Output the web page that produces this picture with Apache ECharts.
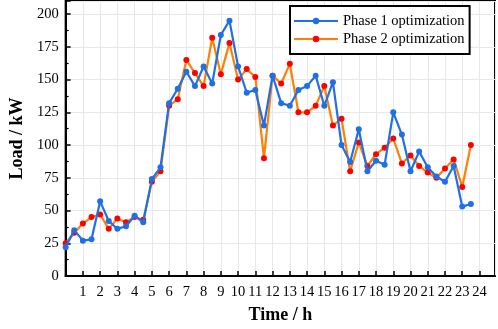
<!DOCTYPE html>
<html>
<head>
<meta charset="utf-8">
<script src="https://cdn.jsdelivr.net/npm/echarts@6/dist/echarts.min.js"></script>
<style>
  html, body { margin: 0; padding: 0; background: #fff; }
  #chart { width: 498px; height: 329px; }
</style>
</head>
<body>
<div id="chart"></div>
<script>
// 时间点（每半小时）
const hours = [0, 0.5, 1, 1.5, 2, 2.5, 3, 3.5, 4, 4.5, 5, 5.5, 6, 6.5, 7, 7.5, 8, 8.5, 9, 9.5,
  10, 10.5, 11, 11.5, 12, 12.5, 13, 13.5, 14, 14.5, 15, 15.5, 16, 16.5, 17, 17.5, 18, 18.5, 19, 19.5,
  20, 20.5, 21, 21.5, 22, 22.5, 23, 23.5];

// Phase 1 optimization
const phase1 = [22, 35, 27, 28, 57, 42, 36, 38, 46, 41, 74, 83, 132, 143, 156, 145, 160, 147, 184, 195,
  160, 140, 142, 115, 153, 132, 130, 142, 145, 153, 130, 148, 100, 87, 112, 80, 88, 85, 125, 108,
  80, 95, 83, 76, 72, 84, 53, 55];

// Phase 2 optimization
const phase2 = [25, 33, 40, 45, 47, 36, 44, 41, 45, 43, 72, 80, 130, 135, 165, 155, 145, 182, 154, 178,
  150, 158, 152, 90, 153, 147, 162, 125, 125, 130, 145, 115, 120, 80, 102, 84, 93, 98, 105, 86,
  92, 84, 79, 75, 82, 89, 68, 100];

const seriesNames = ['Phase 1 optimization', 'Phase 2 optimization'];

(function () {
  const chart = echarts.init(document.getElementById('chart'));
  const font = 'Liberation Serif';

  const toPairs = arr => arr.map((v, i) => [hours[i], v]);

  chart.setOption({
    animation: false,
    textStyle: { fontFamily: font },
    grid: {
      left: 50, right: 3, top: 1, bottom: 46,
      show: true, borderColor: '#000', borderWidth: 2
    },
    legend: {
      orient: 'vertical',
      left: 290, top: 6,
      padding: [7, 5, 7, 3],
      itemGap: 2,
      itemWidth: 44, itemHeight: 8,
      borderColor: '#000', borderWidth: 2,
      backgroundColor: '#fff',
      textStyle: { fontFamily: font, fontSize: 14.5, color: '#000', lineHeight: 16 },
      data: seriesNames
    },
    xAxis: {
      type: 'value',
      min: 0, max: 24.9, interval: 1,
      name: 'Time / h',
      nameLocation: 'middle',
      nameGap: 30,
      nameTextStyle: { fontFamily: font, fontSize: 18, fontWeight: 'bold', color: '#000' },
      axisLine: { lineStyle: { color: '#000', width: 2 } },
      axisTick: { inside: true, length: 5, lineStyle: { color: '#000', width: 1.5 } },
      axisLabel: {
        color: '#000', fontSize: 14.5, fontFamily: font, margin: 9,
        showMaxLabel: false,
        formatter: v => (v === 0 || v % 1 !== 0) ? '' : String(v)
      },
      splitLine: { show: true, lineStyle: { color: '#e8e8e8', width: 1 } }
    },
    yAxis: {
      type: 'value',
      min: 0, max: 210, interval: 25,
      name: 'Load / kW',
      nameLocation: 'middle',
      nameGap: 33,
      nameTextStyle: { fontFamily: font, fontSize: 18, fontWeight: 'bold', color: '#000' },
      axisLine: { show: true, lineStyle: { color: '#000', width: 2 } },
      axisTick: { show: true, inside: true, length: 5, lineStyle: { color: '#000', width: 1.5 } },
      minorTick: { show: true, splitNumber: 2, length: 3, lineStyle: { color: '#000', width: 1.2 } },
      axisLabel: {
        color: '#000', fontSize: 14.5, fontFamily: font, margin: 7,
        showMaxLabel: false,
        formatter: v => (v % 25 !== 0) ? '' : String(v)
      },
      splitLine: { show: true, lineStyle: { color: '#e8e8e8', width: 1 } }
    },
    series: [
      {
        name: seriesNames[0],
        type: 'line',
        data: toPairs(phase1),
        symbol: 'circle', symbolSize: 6,
        lineStyle: { color: '#1f6fe6', width: 2.2 },
        itemStyle: { color: '#1f6fe6' },
        z: 3
      },
      {
        name: seriesNames[1],
        type: 'line',
        data: toPairs(phase2),
        symbol: 'circle', symbolSize: 6,
        lineStyle: { color: '#ff8000', width: 2.2 },
        itemStyle: { color: '#ff0000' },
        z: 2
      }
    ]
  });
})();
</script>
</body>
</html>
